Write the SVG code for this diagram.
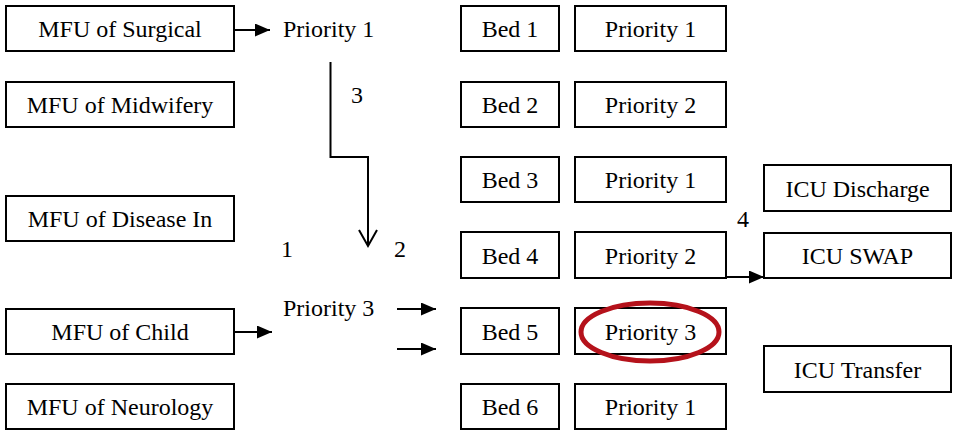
<svg xmlns="http://www.w3.org/2000/svg" width="953" height="432" viewBox="0 0 953 432">
  <style>
    .box { fill: #ffffff; stroke: #000000; stroke-width: 2; }
    .lbl { font-family: "Liberation Serif", "DejaVu Serif", "Times New Roman", Times, serif; font-size: 24px; fill: #000000; }
    .mid { text-anchor: middle; }
    .wire { fill: none; stroke: #000000; stroke-width: 2; }
    .mark { fill: none; stroke: #b5121b; stroke-width: 5; }
  </style>
  <defs>
    <marker id="tri" markerUnits="userSpaceOnUse" markerWidth="16" markerHeight="13" refX="15" refY="6.5" orient="auto">
      <path d="M0,0 L15,6.5 L0,13 z" fill="#000000"/>
    </marker>
  </defs>
  <rect width="953" height="432" fill="#ffffff"/>

  <!-- MFU units -->
  <g id="mfu-surgical"><rect class="box" x="6" y="6" width="228" height="45"/><text class="lbl mid" x="120" y="37">MFU of Surgical</text></g>
  <g id="mfu-midwifery"><rect class="box" x="6" y="82" width="228" height="45"/><text class="lbl mid" x="120" y="113">MFU of Midwifery</text></g>
  <g id="mfu-disease"><rect class="box" x="6" y="196" width="228" height="45"/><text class="lbl mid" x="120" y="227">MFU of Disease In</text></g>
  <g id="mfu-child"><rect class="box" x="6" y="309" width="228" height="45"/><text class="lbl mid" x="120" y="340">MFU of Child</text></g>
  <g id="mfu-neurology"><rect class="box" x="6" y="384" width="228" height="45"/><text class="lbl mid" x="120" y="415">MFU of Neurology</text></g>

  <!-- Incoming priorities -->
  <g id="req-priority1"><text class="lbl" x="283" y="37">Priority 1</text></g>
  <g id="req-priority3"><text class="lbl" x="283" y="316">Priority 3</text></g>

  <!-- Beds -->
  <g id="bed1"><rect class="box" x="461" y="6" width="98" height="45"/><text class="lbl mid" x="510" y="37">Bed 1</text></g>
  <g id="bed2"><rect class="box" x="461" y="82" width="98" height="45"/><text class="lbl mid" x="510" y="113">Bed 2</text></g>
  <g id="bed3"><rect class="box" x="461" y="157" width="98" height="45"/><text class="lbl mid" x="510" y="188">Bed 3</text></g>
  <g id="bed4"><rect class="box" x="461" y="232" width="98" height="46"/><text class="lbl mid" x="510" y="264">Bed 4</text></g>
  <g id="bed5"><rect class="box" x="461" y="308" width="98" height="46"/><text class="lbl mid" x="510" y="340">Bed 5</text></g>
  <g id="bed6"><rect class="box" x="461" y="384" width="98" height="45"/><text class="lbl mid" x="510" y="415">Bed 6</text></g>

  <!-- Bed priorities -->
  <g id="bed1-priority"><rect class="box" x="575" y="6" width="151" height="45"/><text class="lbl mid" x="650.5" y="37">Priority 1</text></g>
  <g id="bed2-priority"><rect class="box" x="575" y="82" width="151" height="45"/><text class="lbl mid" x="650.5" y="113">Priority 2</text></g>
  <g id="bed3-priority"><rect class="box" x="575" y="157" width="151" height="45"/><text class="lbl mid" x="650.5" y="188">Priority 1</text></g>
  <g id="bed4-priority"><rect class="box" x="575" y="232" width="151" height="46"/><text class="lbl mid" x="650.5" y="264">Priority 2</text></g>
  <g id="bed5-priority"><rect class="box" x="575" y="308" width="151" height="46"/><text class="lbl mid" x="650.5" y="340">Priority 3</text></g>
  <g id="bed6-priority"><rect class="box" x="575" y="384" width="151" height="45"/><text class="lbl mid" x="650.5" y="415">Priority 1</text></g>

  <!-- ICU actions -->
  <g id="icu-discharge"><rect class="box" x="764" y="165" width="187" height="46"/><text class="lbl mid" x="857.5" y="197">ICU Discharge</text></g>
  <g id="icu-swap"><rect class="box" x="764" y="233" width="187" height="45"/><text class="lbl mid" x="857.5" y="264">ICU SWAP</text></g>
  <g id="icu-transfer"><rect class="box" x="764" y="346" width="187" height="46"/><text class="lbl mid" x="857.5" y="378">ICU Transfer</text></g>

  <!-- Highlight around the selected bed priority -->
  <g id="highlight"><ellipse class="mark" cx="650" cy="332" rx="69" ry="29"/></g>

  <!-- Connectors and step numbers -->
  <g id="connectors">
    <line class="wire" x1="234" y1="30" x2="270" y2="30" marker-end="url(#tri)"/>
    <line class="wire" x1="234" y1="332" x2="272" y2="332" marker-end="url(#tri)"/>
    <polyline class="wire" points="330.5,62 330.5,157 368,157 368,246"/>
    <polyline class="wire" points="359,230 368,246 377,230"/>
    <line class="wire" x1="397" y1="309" x2="436" y2="309" marker-end="url(#tri)"/>
    <line class="wire" x1="397" y1="349" x2="436" y2="349" marker-end="url(#tri)"/>
    <line class="wire" x1="726" y1="277" x2="764" y2="277" marker-end="url(#tri)"/>
    <text class="lbl" x="351" y="103">3</text>
    <text class="lbl" x="281" y="257">1</text>
    <text class="lbl" x="394" y="257">2</text>
    <text class="lbl" x="737" y="227">4</text>
  </g>
</svg>
